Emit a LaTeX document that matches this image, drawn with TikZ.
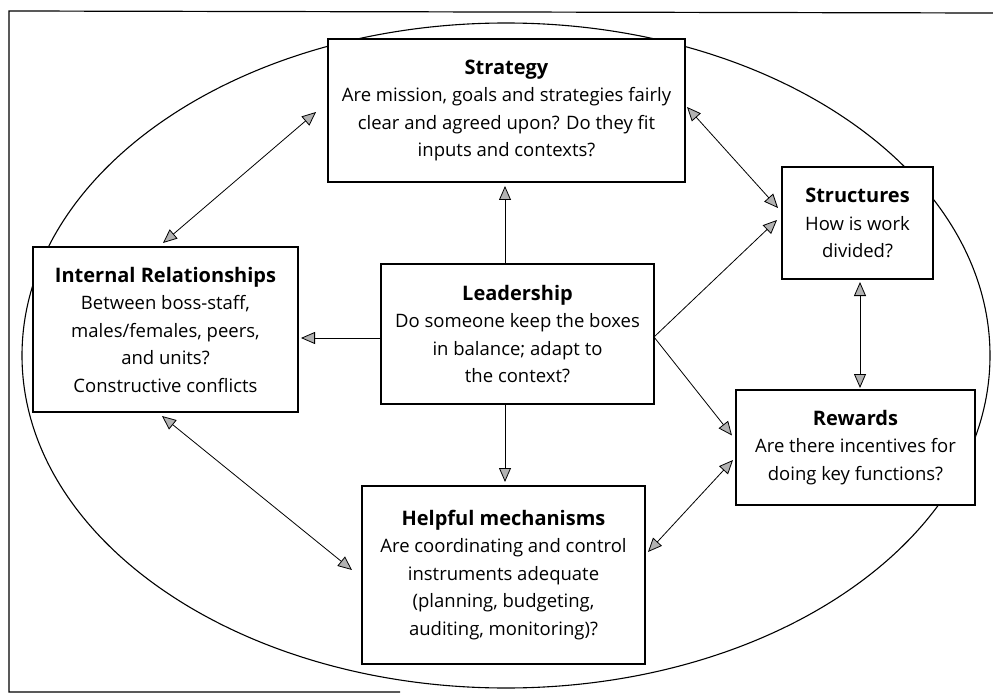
\documentclass[tikz,border=0pt]{standalone}
\usepackage{fontspec}
\setmainfont{Open Sans}
\usetikzlibrary{arrows.meta,calc}
\newcommand{\boxtitle}[1]{{\fontsize{20}{27.5}\selectfont\bfseries #1}}
\begin{document}
\begin{tikzpicture}[x=1pt,y=-1pt,
  box/.style={draw, line width=1.1pt, fill=white, inner sep=0pt, outer sep=0pt,
    align=center, font=\fontsize{18.5}{27.5}\selectfont},
  arr/.style={line width=0.8pt, -{Triangle[length=14pt,width=12pt,fill=gray!60]}},
  dbl/.style={line width=0.8pt, {Triangle[length=14pt,width=12pt,fill=gray!60]}-{Triangle[length=14pt,width=12pt,fill=gray!60]}}]
\useasboundingbox (0,0) rectangle (993,695);

% outer frame and the surrounding ellipse
\draw[line width=1.2pt] (400,692) -- (9,692) -- (9,11) -- (993,13);
\draw[line width=1.1pt] (506,355.5) ellipse [x radius=484, y radius=332.5];

% the six boxes
\node[box, minimum width=357pt, minimum height=143pt] (strat) at (506.5,110.5)
  {\boxtitle{Strategy}\\Are mission, goals and strategies fairly\\clear and agreed upon? Do they fit\\inputs and contexts?};
\node[box, minimum width=265pt, minimum height=165pt] (ir) at (165.5,329.5)
  {\boxtitle{Internal Relationships}\\Between boss-staff,\\males/females, peers,\\and units?\\Constructive conflicts};
\node[box, minimum width=273pt, minimum height=140pt] (lead) at (517.5,334)
  {\boxtitle{Leadership}\\Do someone keep the boxes\\in balance; adapt to\\the context?};
\node[box, minimum width=151pt, minimum height=112pt] (struct) at (857.5,223)
  {\boxtitle{Structures}\\How is work\\divided?};
\node[box, minimum width=239pt, minimum height=115pt] (rew) at (855.5,447.5)
  {\boxtitle{Rewards}\\Are there incentives for\\doing key functions?};
\node[box, minimum width=283pt, minimum height=178pt] (help) at (503.5,575)
  {\boxtitle{Helpful mechanisms}\\Are coordinating and control\\instruments adequate\\(planning, budgeting,\\auditing, monitoring)?};

% connectors
\draw[dbl] ($(strat.west)+(-12,1.5)$) -- ($(ir.north)+(-2.5,-4)$);
\draw[dbl] ($(strat.east)+(2,-3.5)$) -- ($(struct.west)+(-4,-15)$);
\draw[arr] ($(lead.north)+(-12.5,0)$) -- ($(strat.south)+(-1.5,4)$);
\draw[arr] ($(lead.west)+(0,4)$) -- ($(ir.east)+(3,8.5)$);
\draw[arr] ($(lead.east)+(0,3)$) -- ($(struct.west)+(-5,-3)$);
\draw[arr] ($(lead.east)+(0,3)$) -- ($(rew.west)+(-4,-12)$);
\draw[arr] ($(lead.south)+(-12.5,0)$) -- ($(help.north)+(1.5,-4)$);
\draw[dbl] ($(struct.south)+(2.5,3)$) -- ($(rew.north)+(4.5,-2)$);
\draw[dbl] ($(help.east)+(3,-23)$) -- ($(rew.west)+(-3,12.5)$);
\draw[dbl] ($(ir.south)+(-3.5,4)$) -- ($(help.west)+(-10,-5)$);
\end{tikzpicture}
\end{document}
